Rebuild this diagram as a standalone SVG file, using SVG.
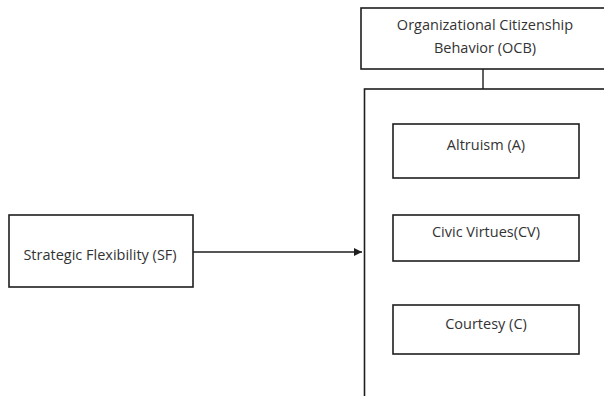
<svg xmlns="http://www.w3.org/2000/svg" width="604" height="396" viewBox="0 0 604 396">
  <defs>
    <style>
      .box { fill: #ffffff; stroke: #1e1e1e; stroke-width: 1.6; }
      .lbl { font-family: "Open Sans", "Liberation Sans", sans-serif; font-size: 14.5px; fill: #333333; text-anchor: middle; }
      .conn { stroke: #1e1e1e; stroke-width: 1.4; fill: none; }
    </style>
    <marker id="arrow" viewBox="0 0 10 10" refX="10" refY="5" markerWidth="8" markerHeight="8" markerUnits="userSpaceOnUse" orient="auto">
      <path d="M0,0 L10,5 L0,10 z" fill="#1e1e1e"/>
    </marker>
  </defs>
  <rect width="604" height="396" fill="#ffffff"/>

  <g id="connectors">
    <line class="conn" x1="483" y1="69" x2="483" y2="89"/>
    <line class="conn" x1="193" y1="252" x2="362" y2="252" marker-end="url(#arrow)"/>
  </g>

  <g id="ocb">
    <rect class="box" x="361" y="8" width="250" height="61"/>
    <text class="lbl" x="485" y="30">Organizational  Citizenship</text>
    <text class="lbl" x="485" y="53">Behavior (OCB)</text>
  </g>

  <g id="ocb-container">
    <rect class="box" x="364.5" y="89" width="250" height="320" stroke-width="2"/>
  </g>

  <g id="sf">
    <rect class="box" x="9" y="215" width="184" height="72"/>
    <text class="lbl" x="100" y="260">Strategic Flexibility (SF)</text>
  </g>

  <g id="altruism">
    <rect class="box" x="393" y="124" width="186" height="54"/>
    <text class="lbl" x="486" y="150">Altruism (A)</text>
  </g>

  <g id="civic">
    <rect class="box" x="393" y="215" width="186" height="46"/>
    <text class="lbl" x="486" y="237">Civic Virtues(CV)</text>
  </g>

  <g id="courtesy">
    <rect class="box" x="393" y="305" width="186" height="49"/>
    <text class="lbl" x="486" y="329">Courtesy (C)</text>
  </g>
</svg>
